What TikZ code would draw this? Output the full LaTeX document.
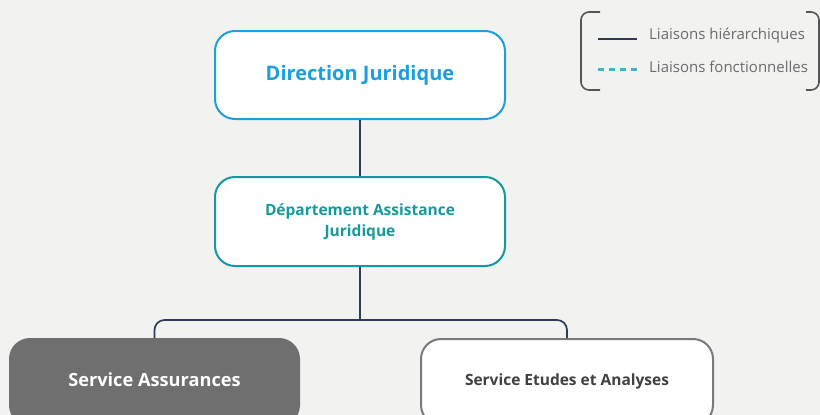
\documentclass[tikz,border=0pt]{standalone}
\usepackage{fontspec}
\setmainfont{Open Sans}
\definecolor{bg}{HTML}{F2F2F1}
\definecolor{dirblue}{HTML}{1AA0E0}
\definecolor{depteal}{HTML}{149A9C}
\definecolor{navy}{HTML}{2C3C58}
\definecolor{legteal}{HTML}{3BB8C4}
\definecolor{boxgray}{HTML}{6F6F6F}
\definecolor{bordergray}{HTML}{7A7A7A}
\definecolor{textgray}{HTML}{404040}
\definecolor{legtext}{HTML}{6B6B6B}
\definecolor{bracketgray}{HTML}{555555}
\begin{document}
\begin{tikzpicture}[x=1pt,y=-1pt,
  orgbox/.style={rectangle, rounded corners=20pt, minimum width=290pt, align=center, fill=white, line width=2pt},
  hier/.style={draw=navy, line width=1.7pt},
  leghier/.style={draw=navy, line width=2pt},
  func/.style={draw=legteal, line width=2.2pt, dash pattern=on 6pt off 5pt},
  bracket/.style={draw=bracketgray, line width=1.6pt, rounded corners=8pt},
  legendtext/.style={anchor=west, text=legtext, font=\fontsize{15}{17}\selectfont, inner sep=0pt}]
\useasboundingbox (0,0) rectangle (820,415);
\clip (0,0) rectangle (820,415);
\fill[bg] (0,0) rectangle (820,415);
% boxes
\node[orgbox, draw=dirblue, minimum height=88pt, text=dirblue, font=\bfseries\fontsize{20}{24}\selectfont] (dir) at (360,75) {Direction Juridique};
\node[orgbox, draw=depteal, minimum height=89pt, text=depteal, font=\bfseries\fontsize{15.5}{21}\selectfont] (dep) at (360,221.5) {Département Assistance\\Juridique};
\node[orgbox, fill=boxgray, draw=boxgray, minimum width=289pt, minimum height=86pt, anchor=north, text=white, font=\bfseries\fontsize{18.2}{21}\selectfont] (sa) at (154.5,338) {\raisebox{5pt}{Service Assurances}};
\node[orgbox, draw=bordergray, minimum width=292pt, minimum height=86pt, anchor=north, text=textgray, font=\bfseries\fontsize{15.5}{18}\selectfont] (se) at (567,338) {\raisebox{5pt}{Service Etudes et Analyses}};
% connectors
\coordinate (jn) at (360,320);
\draw[hier] (dir.south) -- (dep.north);
\draw[hier] (dep.south) -- (jn);
\draw[hier, rounded corners=10pt] (sa.north) |- (jn) -| (se.north);
% legend
\coordinate (bl1) at (600,12);
\coordinate (bl2) at (600,90);
\coordinate (br1) at (806,12);
\coordinate (br2) at (806,90);
\draw[bracket] (bl1) -- (581,12) -- (581,90) -- (bl2);
\draw[bracket] (br1) -- (819,12) -- (819,90) -- (br2);
\coordinate (h1) at (598,39);
\coordinate (h2) at (637,39);
\coordinate (f1) at (598,69.5);
\coordinate (f2) at (637,69.5);
\draw[leghier] (h1) -- (h2);
\draw[func] (f1) -- (f2);
\node[legendtext] (lh) at (649,36) {Liaisons hiérarchiques};
\node[legendtext] (lf) at (649,67) {Liaisons fonctionnelles};
\end{tikzpicture}
\end{document}
